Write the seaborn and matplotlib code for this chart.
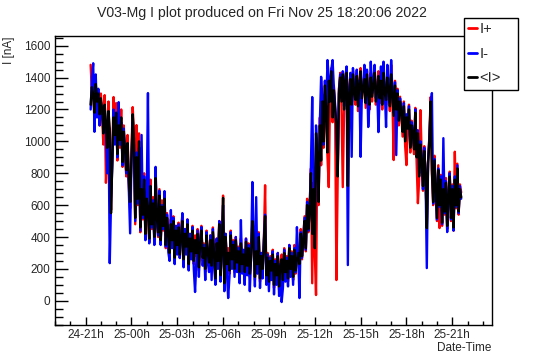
import pandas as pd
import matplotlib
matplotlib.use('Agg')
import matplotlib.pyplot as plt
import matplotlib.dates as mdates
import seaborn as sns

# readings every 5 minutes, starting 24 Nov 21:20
start_time = '2022-11-24 21:20'

i_plus = [1480, 1300, 1350, 1120, 1330, 1200, 1310, 1100, 1300, 1150, 980, 1290, 740, 900, 1250, 800, 570, 930, 1278, 1000,
          1240, 880, 1150, 960, 1200, 840, 1100, 900, 780, 1040, 720, 580, 920, 1215, 1060, 480, 1102, 600, 1050, 430,
          740, 510, 800, 400, 680, 560, 370, 760, 450, 650, 380, 810, 500, 400, 700, 360, 630, 440, 680, 330,
          550, 410, 280, 510, 360, 530, 250, 470, 330, 490, 270, 430, 530, 240, 450, 320, 510, 210, 420, 290,
          470, 230, 410, 280, 450, 190, 390, 470, 250, 360, 180, 440, 280, 220, 410, 200, 460, 260, 120, 390,
          230, 500, 140, 350, 660, 90, 420, 210, 330, 170, 440, 240, 380, 180, 400, 220, 340, 160, 390, 210,
          310, 160, 390, 200, 360, 150, 290, 520, 360, 130, 340, 210, 430, 120, 300, 180, 370, 725, 140, 300,
          100, 280, 170, 320, 80, 260, 140, 300, 70, 240, 290, 110, 330, 160, 280, 120, 350, 180, 310, 130,
          350, 170, 290, 320, 210, 450, 260, 400, 530, 310, 640, 430, 590, 830, 110, 740, 310, 36, 925, 600,
          1150, 850, 1290, 960, 1380, 1150, 900, 713, 1280, 1460, 1120, 1350, 1180, 130, 760, 1330, 1430, 1220, 713, 1180,
          1410, 1450, 1100, 1330, 1420, 1200, 1440, 1280, 1230, 1430, 1190, 1380, 1460, 1250, 1360, 1410, 1210, 1440, 1280, 1200,
          1430, 1250, 1390, 1460, 1230, 1350, 1440, 1240, 1410, 1200, 1460, 1280, 1230, 1430, 1300, 1190, 1480, 1260, 883, 1380,
          1230, 1330, 1100, 1280, 1150, 1030, 1250, 970, 851, 1110, 1230, 930, 1130, 1020, 920, 1210, 870, 612, 760, 1196,
          910, 690, 970, 780, 480, 880, 1030, 1278, 800, 600, 910, 680, 500, 850, 456, 790, 470, 730, 540, 770,
          450, 680, 810, 500, 730, 440, 935, 580, 860, 540, 730, 680]

i_minus = [1200, 1400, 1490, 1060, 1420, 1150, 1330, 1100, 1250, 1180, 1090, 1200, 1060, 800, 1150, 236, 620, 850, 1200, 980,
           1150, 900, 1246, 980, 1120, 850, 1080, 930, 800, 960, 700, 423, 850, 1120, 980, 500, 930, 610, 960, 440,
           1040, 520, 780, 380, 620, 1303, 360, 700, 460, 630, 350, 840, 490, 410, 690, 350, 600, 450, 688, 340,
           540, 305, 250, 569, 330, 520, 230, 470, 290, 480, 268, 390, 550, 210, 450, 290, 510, 190, 420, 260,
           462, 200, 55, 250, 440, 150, 380, 462, 220, 350, 130, 430, 240, 180, 410, 130, 450, 230, 100, 390,
           200, 500, 120, 340, 600, 60, 420, 180, 17, 150, 430, 200, 370, 150, 400, 180, 330, 110, 506, 170,
           320, 100, 390, 160, 350, 60, 280, 745, 400, 90, 650, 170, 420, 80, 300, 140, 380, 540, 100, 290,
           60, 270, 130, 310, 40, 250, 100, 300, 30, 230, -8, 80, 320, 120, 270, 90, 350, 150, 300, 100,
           330, 180, 462, 290, 17, 430, 270, 390, 520, 320, 620, 440, 580, 850, 1278, 720, 340, 1100, 950, 640,
           1120, 1405, 1270, 980, 1380, 1200, 1510, 1400, 1270, 1450, 1510, 1340, 1230, 1080, 800, 1320, 1420, 1270, 1440, 1220,
           1400, 1470, 224, 1320, 1430, 903, 1460, 1320, 1280, 1450, 1240, 1380, 903, 1300, 1350, 1480, 1260, 1450, 1090, 1250,
           1500, 1300, 1370, 1480, 1270, 1340, 1058, 1290, 1470, 1250, 1500, 1320, 1090, 1480, 1350, 1240, 1510, 1310, 1180, 1370,
           914, 1320, 1150, 1270, 1200, 1080, 1240, 1020, 1170, 1100, 1220, 980, 1120, 1070, 970, 1200, 920, 1070, 800, 1000,
           900, 700, 960, 790, 205, 870, 1020, 1200, 1303, 610, 890, 690, 510, 830, 590, 780, 480, 1020, 550, 750,
           431, 660, 800, 510, 720, 440, 780, 590, 850, 550, 720, 640]

i_mean = [1230, 1340, 1290, 1180, 1360, 1250, 1300, 1170, 1270, 1200, 1050, 1230, 1120, 960, 1190, 1080, 550, 880, 1150, 1040,
          1180, 920, 1100, 1010, 1150, 870, 1060, 950, 820, 990, 760, 620, 880, 1170, 1020, 520, 900, 640, 1000, 460,
          700, 540, 760, 420, 640, 580, 390, 720, 480, 610, 400, 770, 520, 430, 660, 380, 590, 470, 640, 350,
          520, 430, 300, 480, 380, 500, 270, 440, 350, 460, 290, 400, 500, 260, 420, 340, 480, 230, 390, 310,
          440, 250, 380, 300, 420, 210, 360, 440, 270, 330, 200, 410, 300, 240, 380, 220, 430, 280, 140, 360,
          250, 480, 160, 320, 645, 110, 400, 230, 300, 190, 410, 260, 350, 200, 380, 240, 310, 180, 360, 230,
          290, 180, 370, 220, 330, 170, 260, 500, 380, 150, 310, 230, 400, 140, 280, 200, 350, 530, 160, 270,
          120, 250, 190, 290, 100, 230, 160, 280, 90, 210, 260, 130, 300, 180, 250, 140, 330, 200, 280, 150,
          320, 190, 260, 300, 230, 420, 280, 380, 500, 330, 600, 450, 560, 800, 420, 700, 330, 1050, 900, 620,
          1100, 880, 1250, 1000, 1350, 1180, 930, 1380, 1250, 1440, 1150, 1320, 1200, 1100, 780, 1300, 1400, 1250, 1420, 1200,
          1380, 1430, 720, 1300, 1390, 1230, 1420, 1300, 1260, 1410, 1220, 1350, 1440, 1270, 1330, 1390, 1240, 1420, 1300, 1230,
          1400, 1280, 1350, 1430, 1250, 1320, 1410, 1270, 1380, 1230, 1430, 1300, 1260, 1400, 1330, 1220, 1420, 1290, 1160, 1350,
          1200, 1300, 1130, 1250, 1180, 1060, 1220, 1000, 1150, 1080, 1200, 960, 1100, 1050, 950, 1180, 900, 1050, 780, 980,
          880, 720, 940, 800, 456, 860, 1000, 1250, 820, 620, 880, 700, 520, 820, 600, 760, 490, 700, 560, 740,
          470, 650, 780, 520, 700, 460, 760, 600, 830, 560, 700, 650]

series_names = ['I+', 'I-', '<I>']
series_colors = ['#ff0000', '#0000ff', '#000000']

times = pd.date_range(start_time, periods=len(i_mean), freq='5min')
frames = []
for name, vals in zip(series_names, [i_plus, i_minus, i_mean]):
    frames.append(pd.DataFrame({'time': times, 'I': vals, 'series': name}))
df = pd.concat(frames, ignore_index=True)

sns.set_theme(style='white')
plt.rcParams['font.family'] = ['Liberation Sans', 'DejaVu Sans']

fig = plt.figure(figsize=(5.46, 3.62), dpi=100)
ax = fig.add_axes([55 / 546, 1 - 325 / 362, 437 / 546, 289 / 362])

sns.lineplot(data=df, x='time', y='I', hue='series', hue_order=series_names,
             palette=series_colors, estimator=None, sort=False,
             linewidth=1.7, ax=ax, legend=False)

ax.set_xlim(pd.Timestamp('2022-11-24 19:00'), pd.Timestamp('2022-11-25 23:36'))
ax.set_ylim(-152, 1661)

ax.xaxis.set_major_locator(mdates.HourLocator(byhour=range(0, 24, 3)))
ax.xaxis.set_minor_locator(mdates.HourLocator())
ax.xaxis.set_major_formatter(mdates.DateFormatter('%d-%Hh'))
ax.set_yticks(range(0, 1601, 200))
ax.set_yticks(range(-150, 1651, 50), minor=True)

ax.tick_params(axis='y', which='major', direction='in', length=9.5, width=1,
               labelsize=8.5, pad=3.3, color='black', left=True)
ax.tick_params(axis='y', which='minor', direction='in', length=5.8, width=1,
               color='black', left=True)
ax.tick_params(axis='x', which='major', direction='in', length=6, width=1,
               labelsize=8.5, pad=2.8, color='black', bottom=True)
ax.tick_params(axis='x', which='minor', direction='in', length=3, width=1,
               color='black', bottom=True)

for sp in ax.spines.values():
    sp.set_color('black')
    sp.set_linewidth(1)

ax.set_xlabel('')
ax.set_ylabel('')
fig.text(491 / 546, 1 - 348 / 362, 'Date-Time', ha='right', va='center', fontsize=8.5)
fig.text(9 / 546, 1 - 37 / 362, 'I [nA]', ha='center', va='top', rotation=90, fontsize=8.5)
fig.text(261.5 / 546, 1 - 13 / 362, 'V03-Mg I plot produced on Fri Nov 25 18:20:06 2022',
         ha='center', va='center', fontsize=10.2)

handles = [plt.Line2D([], [], color=c, linewidth=2) for c in series_colors]
leg = fig.legend(handles, series_names, loc='upper left',
                 bbox_to_anchor=(464 / 546, 1 - 90 / 362, 54 / 546, 72 / 362),
                 mode='expand', fontsize=10.5,
                 frameon=True, fancybox=False, edgecolor='black', framealpha=1,
                 handlelength=0.6, handletextpad=0.15, borderpad=0.3,
                 labelspacing=0.72, borderaxespad=0)
leg.get_frame().set_linewidth(1)

fig.savefig('out.png', dpi=100)
